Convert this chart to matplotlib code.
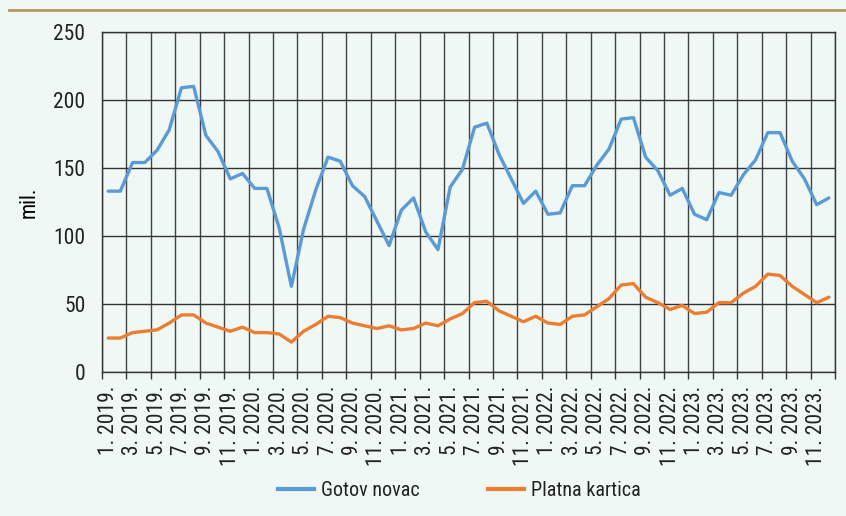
import matplotlib.pyplot as plt
from matplotlib import font_manager
from matplotlib.ticker import FixedLocator
from matplotlib.lines import Line2D

# Mjesečni podaci 1/2019 - 12/2023 (mil.)
months = [f"{m}. {y}." for y in range(2019, 2024) for m in range(1, 13)]

gotov_novac = [
    133, 133, 154, 154, 163, 178, 209, 210, 174, 162, 142, 146,
    135, 135, 106, 63, 105, 134, 158, 155, 137, 129, 111, 93,
    119, 128, 103, 90, 136, 149, 180, 183, 160, 142, 124, 133,
    116, 117, 137, 137, 152, 164, 186, 187, 158, 148, 130, 135,
    116, 112, 132, 130, 145, 156, 176, 176, 155, 142, 123, 128,
]
platna_kartica = [
    25, 25, 29, 30, 31, 36, 42, 42, 36, 33, 30, 33,
    29, 29, 28, 22, 30, 35, 41, 40, 36, 34, 32, 34,
    31, 32, 36, 34, 39, 43, 51, 52, 45, 41, 37, 41,
    36, 35, 41, 42, 48, 54, 64, 65, 55, 51, 46, 49,
    43, 44, 51, 51, 58, 63, 72, 71, 63, 57, 51, 55,
]
series_names = ["Gotov novac", "Platna kartica"]
series_colors = ["#5B9BD5", "#ED7D31"]

bg = "#EFF8F5"

# uži font ako postoji
installed = {f.name for f in font_manager.fontManager.ttflist}
narrow = [n for n in ["Liberation Sans Narrow", "Roboto Condensed", "Open Sans Condensed"]
          if n in installed]
if narrow:
    family, fs = narrow[0], 15.5
else:
    family, fs = "Liberation Sans", 13.5
plt.rcParams["font.family"] = [family, "DejaVu Sans"]
plt.rcParams["text.color"] = "#222222"

fig = plt.figure(figsize=(8.46, 5.16), dpi=100, facecolor=bg)
ax = fig.add_axes([0.1206, 0.279, 0.8664, 0.659])
ax.set_facecolor(bg)

x = list(range(len(months)))
for vals, name, col in zip([gotov_novac, platna_kartica], series_names, series_colors):
    ax.plot(x, vals, color=col, lw=2.4, label=name, solid_capstyle="round",
            solid_joinstyle="round", zorder=3)

ax.set_xlim(-0.5, len(months) - 0.5)
ax.set_ylim(0, 250)
ax.set_yticks(range(0, 251, 50))
ax.tick_params(axis="y", length=0, pad=12, labelsize=fs, colors="#222222")

# oznake svaki drugi mjesec, crte mreže između kategorija
ax.set_xticks(x[::2])
ax.set_xticklabels(months[::2], rotation=90, fontsize=fs, color="#222222")
ax.tick_params(axis="x", which="major", length=0, pad=10)
boundaries = [i - 0.5 for i in range(0, len(months) + 1, 2)]
ax.xaxis.set_minor_locator(FixedLocator(boundaries))
ax.tick_params(axis="x", which="minor", length=5, width=1, color="#333333")

ax.grid(axis="y", which="major", color="#333333", lw=1)
ax.grid(axis="x", which="minor", color="#444444", lw=1)
ax.set_axisbelow(True)
for s in ax.spines.values():
    s.set_color("#333333")
    s.set_linewidth(1)

ax.set_ylabel("mil.", fontsize=fs)
ax.yaxis.set_label_coords(-0.085, 0.5)

handles = [Line2D([0], [0], color=c, lw=3) for c in series_colors]
fig.legend(handles, series_names, loc="center", bbox_to_anchor=(0.543, 0.05),
           ncol=2, frameon=False, fontsize=fs - 1, handlelength=1.8,
           columnspacing=3.4, handletextpad=0.35)

# zlatna linija na vrhu
fig.add_artist(Line2D([9 / 846, 1], [1 - 10 / 516, 1 - 10 / 516],
                      color="#B8975A", lw=2, transform=fig.transFigure))

fig.savefig("out.png", dpi=100, facecolor=bg)
